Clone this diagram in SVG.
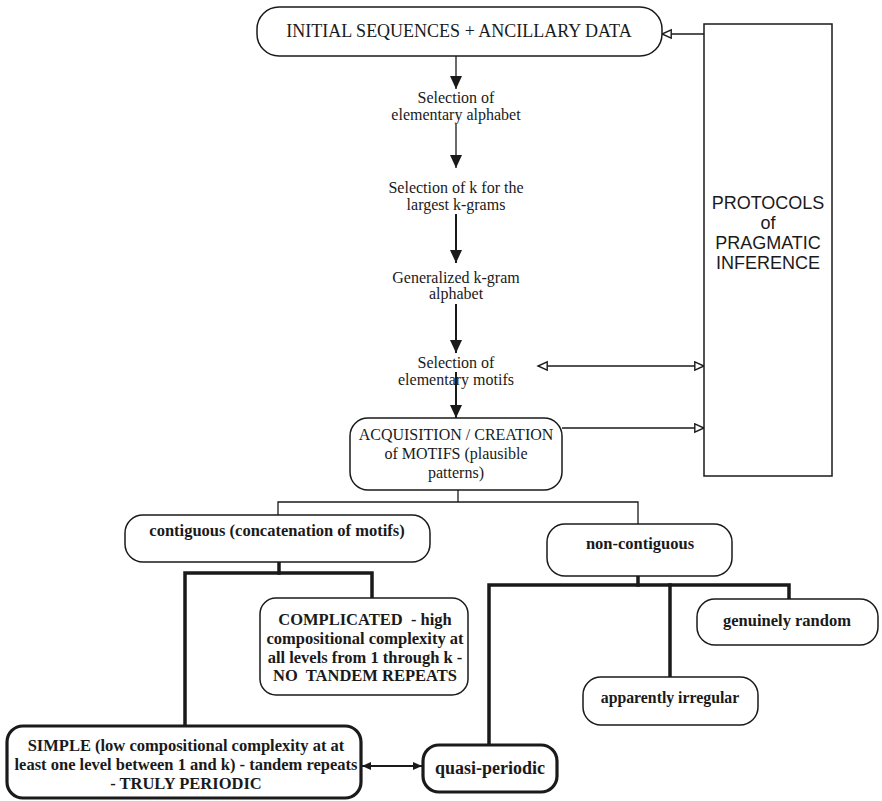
<svg xmlns="http://www.w3.org/2000/svg" width="882" height="801" viewBox="0 0 882 801">
  <style>
    .box { fill: #fff; stroke: #1a1a1a; stroke-width: 1.5; }
    .box-heavy { fill: #fff; stroke: #1a1a1a; stroke-width: 3.2; }
    .t { font-family: "Liberation Serif", "Times New Roman", serif; font-size: 16px; fill: #1a1a1a; text-anchor: middle; }
    .tb { font-family: "Liberation Serif", "Times New Roman", serif; font-size: 16.5px; font-weight: bold; fill: #1a1a1a; text-anchor: middle; white-space: pre; }
    .ts { font-family: "Liberation Sans", Arial, sans-serif; font-size: 18px; fill: #1a1a1a; text-anchor: middle; }
    .ln { fill: none; stroke: #1a1a1a; stroke-width: 1.3; }
    .ln2 { fill: none; stroke: #1a1a1a; stroke-width: 2; }
    .thick { fill: none; stroke: #1a1a1a; stroke-width: 3.5; stroke-linecap: square; }
  </style>
  <defs>
    <marker id="solid" markerUnits="userSpaceOnUse" markerWidth="14" markerHeight="14" refX="13" refY="6" orient="auto">
      <path d="M0,0 L13,6 L0,12 z" fill="#1a1a1a"/>
    </marker>
    <marker id="hollow" markerUnits="userSpaceOnUse" markerWidth="12" markerHeight="12" refX="10" refY="5" orient="auto-start-reverse">
      <path d="M0.8,0.8 L10,5 L0.8,9.2 z" fill="#fff" stroke="#1a1a1a" stroke-width="1.4"/>
    </marker>
    <marker id="small" markerUnits="userSpaceOnUse" markerWidth="10" markerHeight="10" refX="9" refY="4" orient="auto-start-reverse">
      <path d="M0,0 L9,4 L0,8 z" fill="#1a1a1a"/>
    </marker>
  </defs>

  <!-- connectors -->
  <g id="connectors">
    <line class="ln" x1="456" y1="56" x2="456" y2="89" marker-end="url(#solid)"/>
    <line class="ln" x1="456" y1="124" x2="456" y2="168" marker-end="url(#solid)"/>
    <line class="ln2" x1="456" y1="214" x2="456" y2="263" marker-end="url(#solid)"/>
    <line class="ln2" x1="456" y1="304" x2="456" y2="353" marker-end="url(#solid)"/>
    <line class="ln2" x1="456" y1="372" x2="456" y2="418" marker-end="url(#solid)"/>
    <!-- feedback links with the protocols box -->
    <line class="ln" x1="704" y1="34" x2="662" y2="34" marker-end="url(#hollow)"/>
    <line class="ln" x1="538" y1="366" x2="704" y2="366" marker-start="url(#hollow)" marker-end="url(#hollow)"/>
    <line class="ln" x1="562" y1="428" x2="704" y2="428" marker-end="url(#hollow)"/>
    <!-- split of motifs -->
    <polyline class="ln" points="458,490 458,502"/>
    <polyline class="ln" points="278,515 278,502 638,502 638,524"/>
    <!-- contiguous branch -->
    <polyline class="thick" points="279,562 279,573"/>
    <polyline class="thick" points="185,726 185,573 372,573 372,598"/>
    <!-- non-contiguous branch -->
    <polyline class="thick" points="638,576 638,585"/>
    <polyline class="thick" points="489,745 489,585 789,585 789,599"/>
    <polyline class="thick" points="670,585 670,677"/>
    <!-- simple <-> quasi-periodic -->
    <line class="ln2" x1="362" y1="766" x2="422" y2="766" marker-start="url(#small)" marker-end="url(#small)"/>
  </g>

  <g id="initial">
    <rect class="box" x="257" y="7" width="405" height="49" rx="22"/>
    <text class="t" x="459" y="37" style="font-size:18px">INITIAL SEQUENCES + ANCILLARY DATA</text>
  </g>

  <g id="protocols">
    <rect class="box" x="704" y="24" width="128" height="452"/>
    <text class="ts" x="768" y="209">PROTOCOLS</text>
    <text class="ts" x="768" y="229">of</text>
    <text class="ts" x="768" y="249">PRAGMATIC</text>
    <text class="ts" x="768" y="269">INFERENCE</text>
  </g>

  <g id="sel-alphabet">
    <text class="t" x="456" y="103">Selection of</text>
    <text class="t" x="456" y="120">elementary alphabet</text>
  </g>

  <g id="sel-k">
    <text class="t" x="456" y="193">Selection of k for the</text>
    <text class="t" x="456" y="210">largest k-grams</text>
  </g>

  <g id="kgram-alphabet">
    <text class="t" x="456" y="283">Generalized k-gram</text>
    <text class="t" x="456" y="299">alphabet</text>
  </g>

  <g id="sel-motifs">
    <text class="t" x="456" y="368">Selection of</text>
    <text class="t" x="456" y="385">elementary motifs</text>
  </g>

  <g id="acquisition">
    <rect class="box" x="350" y="418" width="212" height="72" rx="18"/>
    <text class="t" x="456" y="440">ACQUISITION / CREATION</text>
    <text class="t" x="456" y="459">of MOTIFS (plausible</text>
    <text class="t" x="456" y="478">patterns)</text>
  </g>

  <g id="contiguous">
    <rect class="box" x="125" y="515" width="305" height="47" rx="18"/>
    <text class="tb" x="277" y="536">contiguous (concatenation of motifs)</text>
  </g>

  <g id="non-contiguous">
    <rect class="box" x="547" y="524" width="185" height="52" rx="18"/>
    <text class="tb" x="640" y="549">non-contiguous</text>
  </g>

  <g id="complicated">
    <rect class="box" x="260" y="598" width="208" height="97" rx="16"/>
    <text class="tb" x="365" y="625">COMPLICATED  - high</text>
    <text class="tb" x="365" y="644">compositional complexity at</text>
    <text class="tb" x="365" y="663">all levels from 1 through k -</text>
    <text class="tb" x="365" y="681">NO  TANDEM REPEATS</text>
  </g>

  <g id="simple">
    <rect class="box-heavy" x="7" y="726" width="354" height="72" rx="16"/>
    <text class="tb" x="186" y="751">SIMPLE (low compositional complexity at at</text>
    <text class="tb" x="186" y="770">least one level between 1 and k) - tandem repeats</text>
    <text class="tb" x="186" y="789">- TRULY PERIODIC</text>
  </g>

  <g id="quasi-periodic">
    <rect class="box-heavy" x="423" y="745" width="134" height="47" rx="16"/>
    <text class="tb" x="490" y="774" style="font-size:18px">quasi-periodic</text>
  </g>

  <g id="genuinely-random">
    <rect class="box" x="697" y="599" width="181" height="46" rx="18"/>
    <text class="tb" x="787" y="626">genuinely random</text>
  </g>

  <g id="apparently-irregular">
    <rect class="box" x="583" y="677" width="175" height="48" rx="18"/>
    <text class="tb" x="670" y="703" style="font-size:15.8px">apparently irregular</text>
  </g>
</svg>
